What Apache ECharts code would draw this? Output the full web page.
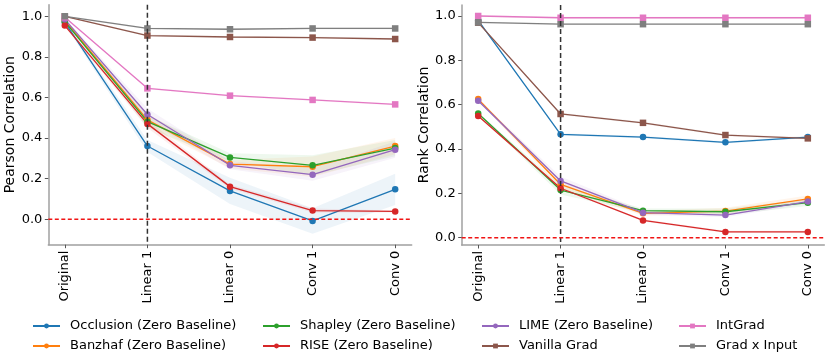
<!DOCTYPE html>
<html>
<head>
<meta charset="utf-8">
<script src="https://cdn.jsdelivr.net/npm/echarts@6/dist/echarts.min.js"></script>
<style>
  html, body { margin: 0; padding: 0; background: #fff; }
  #main { width: 830px; height: 363px; }
</style>
</head>
<body>
<div id="main"></div>
<script>
// categories along the x axis (layers randomized)
var layers = ['Original', 'Linear 1', 'Linear 0', 'Conv 1', 'Conv 0'];
var layerIdx = [0, 1, 2, 3, 4];
var yTicks = [0, 0.2, 0.4, 0.6, 0.8, 1.0];
var cutLayer = 1;   // dashed vertical marker at "Linear 1"
var zeroLevel = 0;  // red dashed reference

var methods = ['Occlusion (Zero Baseline)', 'Banzhaf (Zero Baseline)', 'Shapley (Zero Baseline)',
    'RISE (Zero Baseline)', 'LIME (Zero Baseline)', 'Vanilla Grad', 'IntGrad', 'Grad x Input'];
var colors = ['#1f77b4', '#ff7f0e', '#2ca02c', '#d62728', '#9467bd', '#8c564b', '#e377c2', '#7f7f7f'];
var symbols = ['circle', 'circle', 'circle', 'circle', 'circle', 'rect', 'rect', 'rect'];

// Pearson correlation (left panel), one array per method
var pearsonOcclusion = [0.970, 0.361, 0.140, -0.008, 0.148];
var pearsonBanzhaf   = [0.980, 0.490, 0.272, 0.259, 0.361];
var pearsonShapley   = [0.974, 0.481, 0.305, 0.266, 0.351];
var pearsonRise      = [0.954, 0.470, 0.161, 0.043, 0.039];
var pearsonLime      = [0.985, 0.516, 0.266, 0.220, 0.343];
var pearsonVanilla   = [1.000, 0.905, 0.898, 0.895, 0.888];
var pearsonIntGrad   = [0.995, 0.645, 0.609, 0.588, 0.566];
var pearsonGradInput = [1.000, 0.940, 0.936, 0.940, 0.940];

// spread of the shaded band (+/-)
var pearsonSdOcclusion = [0.010, 0.030, 0.065, 0.063, 0.077];
var pearsonSdBanzhaf   = [0.005, 0.030, 0.020, 0.050, 0.040];
var pearsonSdShapley   = [0.005, 0.030, 0.020, 0.050, 0.040];
var pearsonSdRise      = [0.005, 0.020, 0.010, 0.010, 0.005];
var pearsonSdLime      = [0.005, 0.030, 0.020, 0.030, 0.040];
var pearsonSdVanilla   = [0.004, 0.005, 0.005, 0.005, 0.005];
var pearsonSdIntGrad   = [0.004, 0.005, 0.005, 0.005, 0.005];
var pearsonSdGradInput = [0.004, 0.005, 0.005, 0.005, 0.005];

// Rank correlation (right panel)
var rankOcclusion = [0.980, 0.466, 0.454, 0.430, 0.454];
var rankBanzhaf   = [0.625, 0.240, 0.110, 0.120, 0.175];
var rankShapley   = [0.560, 0.215, 0.122, 0.117, 0.158];
var rankRise      = [0.549, 0.223, 0.078, 0.026, 0.026];
var rankLime      = [0.618, 0.256, 0.113, 0.102, 0.163];
var rankVanilla   = [0.970, 0.558, 0.518, 0.463, 0.448];
var rankIntGrad   = [1.000, 0.992, 0.992, 0.992, 0.992];
var rankGradInput = [0.971, 0.963, 0.963, 0.963, 0.963];

var rankSdOcclusion = [0.004, 0.005, 0.005, 0.005, 0.005];
var rankSdBanzhaf   = [0.005, 0.020, 0.010, 0.015, 0.015];
var rankSdShapley   = [0.005, 0.020, 0.010, 0.015, 0.015];
var rankSdRise      = [0.004, 0.005, 0.005, 0.005, 0.005];
var rankSdLime      = [0.005, 0.020, 0.010, 0.010, 0.010];
var rankSdVanilla   = [0.004, 0.005, 0.005, 0.005, 0.005];
var rankSdIntGrad   = [0.004, 0.004, 0.004, 0.004, 0.004];
var rankSdGradInput = [0.004, 0.004, 0.004, 0.004, 0.004];

var pearson = [pearsonOcclusion, pearsonBanzhaf, pearsonShapley, pearsonRise, pearsonLime, pearsonVanilla, pearsonIntGrad, pearsonGradInput];
var pearsonSd = [pearsonSdOcclusion, pearsonSdBanzhaf, pearsonSdShapley, pearsonSdRise, pearsonSdLime, pearsonSdVanilla, pearsonSdIntGrad, pearsonSdGradInput];
var rank = [rankOcclusion, rankBanzhaf, rankShapley, rankRise, rankLime, rankVanilla, rankIntGrad, rankGradInput];
var rankSd = [rankSdOcclusion, rankSdBanzhaf, rankSdShapley, rankSdRise, rankSdLime, rankSdVanilla, rankSdIntGrad, rankSdGradInput];

var FONT = 'DejaVu Sans';
var axisGray = '#a0a0a0';

function xAxisFor(gi) {
    return {
        type: 'value', gridIndex: gi, min: -0.2, max: 4.2,
        splitLine: {show: false},
        axisLine: {onZero: false, lineStyle: {color: axisGray, width: 1.5}},
        axisTick: {customValues: layerIdx, length: 3.5, lineStyle: {color: '#555', width: 1}},
        axisLabel: {
            customValues: layerIdx, rotate: 90, margin: 6,
            fontFamily: FONT, fontSize: 13, color: '#000',
            formatter: function (v) { return layers[Math.round(v)]; }
        }
    };
}

function yAxisFor(gi, name, min, max, gap) {
    return {
        type: 'value', gridIndex: gi, min: min, max: max,
        name: name, nameLocation: 'middle', nameGap: gap, nameRotate: 90,
        nameTextStyle: {fontFamily: FONT, fontSize: 14, color: '#000'},
        splitLine: {show: false},
        axisLine: {show: true, onZero: false, lineStyle: {color: axisGray, width: 1.5}},
        axisTick: {show: true, customValues: yTicks, length: 3.5, lineStyle: {color: '#555', width: 1}},
        axisLabel: {
            customValues: yTicks, margin: 6,
            fontFamily: FONT, fontSize: 13, color: '#000',
            formatter: function (v) { return v.toFixed(1); }
        }
    };
}

// shaded band drawn as a polygon through the axis scales
function bandSeries(gi, vals, sd, color) {
    return {
        type: 'custom', xAxisIndex: gi, yAxisIndex: gi, silent: true, z: 1,
        data: [[0, vals[0]]],
        renderItem: function (params, api) {
            var pts = [];
            for (var i = 0; i < layerIdx.length; i++) {
                pts.push(api.coord([layerIdx[i], vals[i] + sd[i]]));
            }
            for (var j = layerIdx.length - 1; j >= 0; j--) {
                pts.push(api.coord([layerIdx[j], vals[j] - sd[j]]));
            }
            return {type: 'polygon', shape: {points: pts}, style: {fill: color, opacity: 0.08}};
        }
    };
}

// dashed reference lines spanning the whole plot area
function refLines(gi) {
    return {
        type: 'custom', xAxisIndex: gi, yAxisIndex: gi, silent: true, z: 4,
        data: [[cutLayer, zeroLevel]],
        renderItem: function (params, api) {
            var cs = params.coordSys;
            var p = api.coord([cutLayer, zeroLevel]);
            return {
                type: 'group',
                children: [
                    {type: 'line', shape: {x1: p[0], y1: cs.y, x2: p[0], y2: cs.y + cs.height},
                        style: {stroke: '#333333', lineWidth: 1.5, lineDash: [5, 3]}},
                    {type: 'line', shape: {x1: cs.x, y1: p[1], x2: cs.x + cs.width, y2: p[1]},
                        style: {stroke: '#f01414', lineWidth: 1.6, lineDash: [4, 2.5]}}
                ]
            };
        }
    };
}

var series = [];
function addPanel(gi, data, sds) {
    for (var k = 0; k < methods.length; k++) {
        series.push(bandSeries(gi, data[k], sds[k], colors[k]));
    }
    for (var m = 0; m < methods.length; m++) {
        var pts = [];
        for (var i = 0; i < layerIdx.length; i++) pts.push([layerIdx[i], data[m][i]]);
        series.push({
            name: methods[m], type: 'line', xAxisIndex: gi, yAxisIndex: gi, z: 3,
            data: pts, symbol: symbols[m], symbolSize: 6.5,
            lineStyle: {color: colors[m], width: 1.3},
            itemStyle: {color: colors[m]}
        });
    }
    series.push(refLines(gi));
}
addPanel(0, pearson, pearsonSd);
addPanel(1, rank, rankSd);

var legendCols = [[0, 1], [2, 3], [4, 5], [6, 7]];
var legendLeft = [32, 262, 481, 678];
var legends = [];
for (var c = 0; c < 4; c++) {
    legends.push({
        orient: 'vertical', left: legendLeft[c], top: 319, padding: 0,
        itemWidth: 27, itemHeight: 6, itemGap: 6,
        data: [methods[legendCols[c][0]], methods[legendCols[c][1]]],
        textStyle: {fontFamily: FONT, fontSize: 13, color: '#000', lineHeight: 14, padding: [0, 0, 0, 5]}
    });
}

var myChart = echarts.init(document.getElementById('main'));
myChart.setOption({
    animation: false,
    backgroundColor: '#fff',
    grid: [
        {left: 48.3, top: 4.7, width: 363.4, height: 240, outerBoundsMode: 'none', containLabel: false},
        {left: 461.7, top: 4.9, width: 362.6, height: 240.1, outerBoundsMode: 'none', containLabel: false}
    ],
    xAxis: [xAxisFor(0), xAxisFor(1)],
    yAxis: [yAxisFor(0, 'Pearson Correlation', -0.125, 1.057, 26), yAxisFor(1, 'Rank Correlation', -0.033, 1.05, 28)],
    legend: legends,
    series: series
});
</script>
</body>
</html>
